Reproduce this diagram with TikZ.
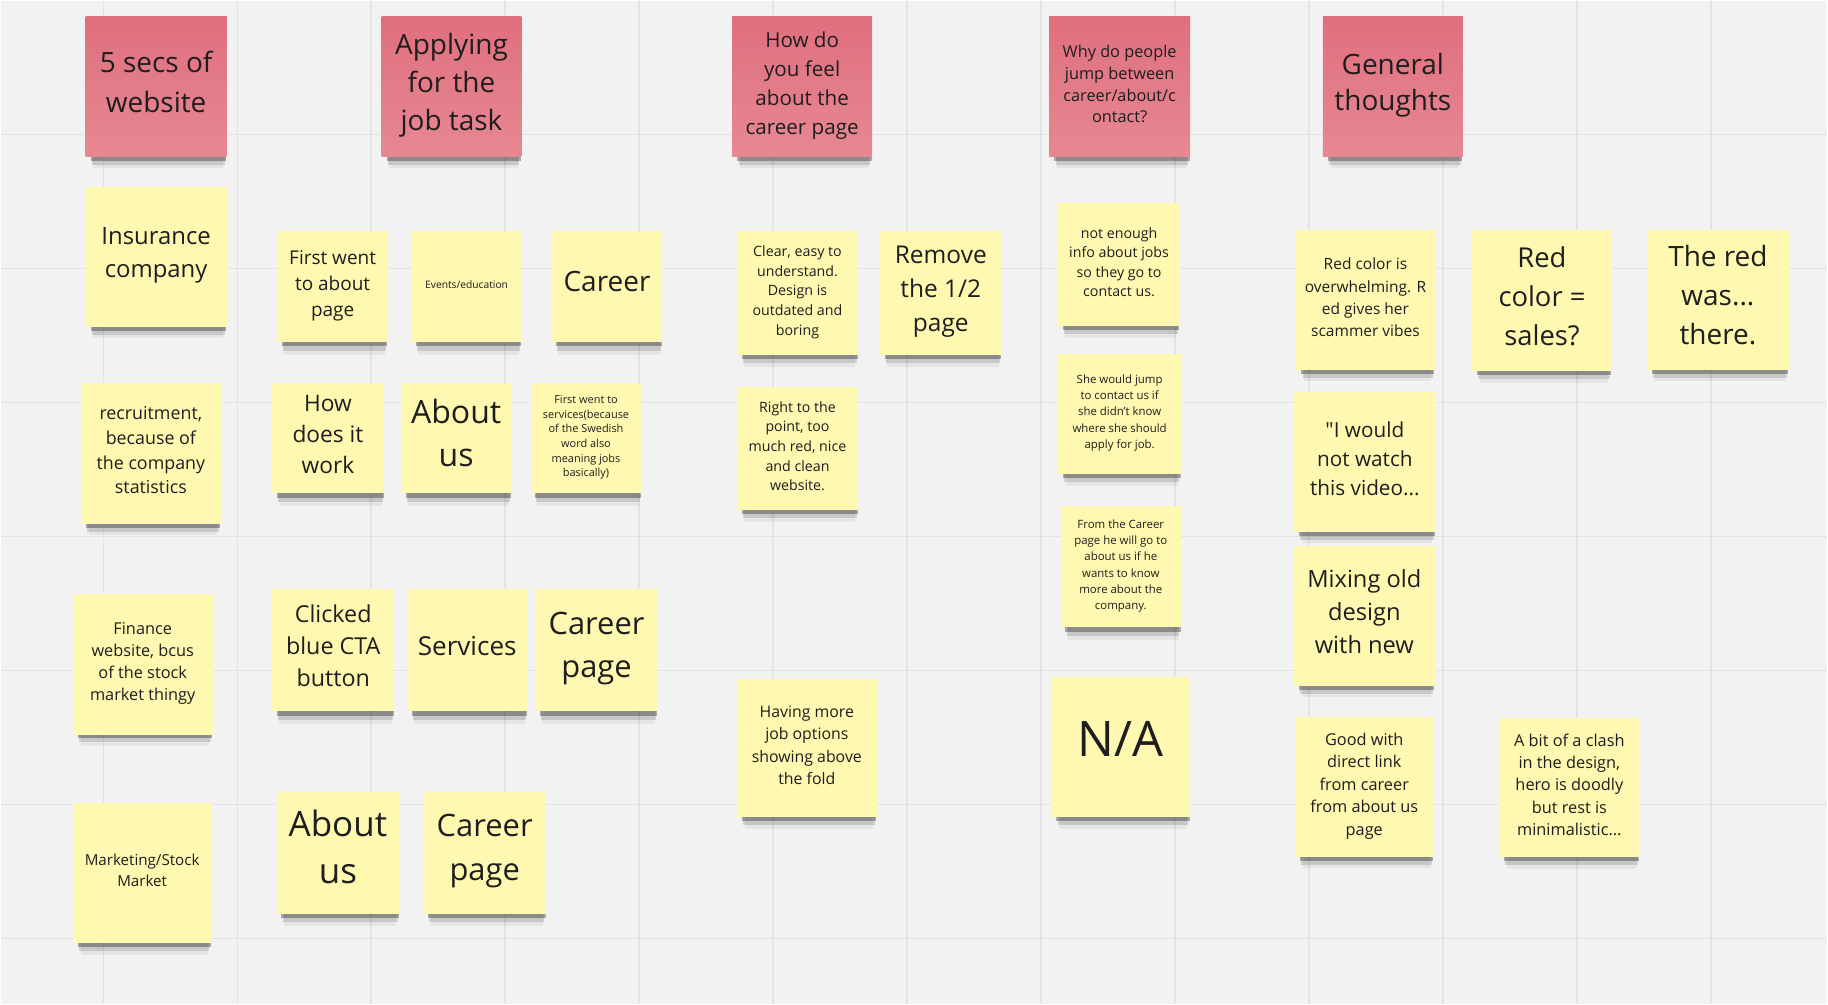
\documentclass[tikz,border=0pt]{standalone}
\usepackage{fontspec}
\setmainfont{Open Sans}[Ligatures=TeXOff]
\usetikzlibrary{shadows}
\definecolor{board}{HTML}{F2F2F2}
\definecolor{gridc}{HTML}{E3E3E3}
\definecolor{headtop}{HTML}{E06F7E}
\definecolor{headbot}{HTML}{E68893}
\definecolor{notey}{HTML}{FFF8B0}
\definecolor{ink}{HTML}{1E1E1E}

\begin{document}
\begin{tikzpicture}[x=1pt, y=-1pt,
  note/.style={inner sep=0pt, align=center, text=ink, fill=notey,
               drop shadow={shadow xshift=2pt, shadow yshift=-6pt, shadow scale=.96, opacity=.30, fill=black},
               drop shadow={shadow xshift=2pt, shadow yshift=-11pt, shadow scale=.94, opacity=.13, fill=black},
               drop shadow={shadow xshift=2pt, shadow yshift=-16pt, shadow scale=.92, opacity=.05, fill=black}},
  head/.style={note, top color=headtop, bottom color=headbot},
  fs/.style 2 args={font=\fontsize{#1}{#2}\selectfont, text depth=0.35*#1},
  gridline/.style={gridc, line width=1pt}
]
  \fill[board] (0,0) rectangle (1568,861);
  \foreach \gx in {88,203,...,1468}
    \draw[gridline] (\gx,0) -- (\gx,861);
  \foreach \gy in {115,230,...,805}
    \draw[gridline] (0,\gy) -- (1568,\gy);

  % headers
  \node[head, minimum width=121, minimum height=120, fs={24}{34}]     (h1) at (133.5,74) {5 secs of\\website};
  \node[head, minimum width=120, minimum height=120, fs={24}{33}]     (h2) at (387,74)   {Applying\\for the\\job task};
  \node[head, minimum width=120, minimum height=120, fs={17.7}{24.7}] (h3) at (688,74)   {How do\\you feel\\about the\\career page};
  \node[head, minimum width=121, minimum height=120, fs={14}{18.8}]   (h4) at (960.5,74) {Why do people\\jump between\\career/about/c\\ontact?};
  \node[head, minimum width=120, minimum height=120, fs={24}{31}]     (h5) at (1195,74)  {General\\thoughts};

  % 5 secs of website
  \node[note, minimum width=121, minimum height=120, fs={20.5}{28}] (a1) at (133.5,220) {Insurance\\company};
  \node[note, minimum width=120, minimum height=121, fs={15.3}{21.3}] (a2) at (129,388.5) {recruitment,\\because of\\the company\\statistics};
  \node[note, minimum width=120, minimum height=121, fs={14}{19}] (a3) at (122,569.5) {Finance\\website, bcus\\of the stock\\market thingy};
  \node[note, minimum width=119, minimum height=120, fs={13}{18}] (a4) at (121.5,749) {Marketing/Stock\\Market};

  % applying for the job task
  \node[note, minimum width=94, minimum height=95, fs={16.3}{22.5}] (b1) at (285,245.5) {First went\\to about\\page};
  \node[note, minimum width=94, minimum height=95, fs={8.8}{11}] (b2) at (400,245.5) {Events/education};
  \node[note, minimum width=95, minimum height=95, fs={24}{30}] (b3) at (520.5,245.5) {Career};
  \node[note, minimum width=96, minimum height=95, fs={19.5}{26.5}] (b4) at (281,375.5) {How\\does it\\work};
  \node[note, minimum width=94, minimum height=95, fs={27.5}{37}] (b5) at (391,375.5) {About\\us};
  \node[note, minimum width=95, minimum height=95, fs={9.4}{12.6}] (b6) at (502.5,375.5) {First went to\\services(because\\of the Swedish\\word also\\meaning jobs\\basically)};
  \node[note, minimum width=105, minimum height=105, fs={20}{27.5}] (b7) at (285.5,557.5) {Clicked\\blue CTA\\button};
  \node[note, minimum width=103, minimum height=105, fs={22.4}{28}] (b8) at (400.5,557.5) {Services};
  \node[note, minimum width=105, minimum height=105, fs={26.5}{37}] (b9) at (511.5,557.5) {Career\\page};
  \node[note, minimum width=105, minimum height=105, fs={30}{41}] (b10) at (289.5,731.5) {About\\us};
  \node[note, minimum width=105, minimum height=105, fs={26.5}{38}] (b11) at (415.5,731.5) {Career\\page};

  % career page
  \node[note, minimum width=104, minimum height=106, fs={12.2}{16.8}] (c1) at (684,251) {Clear, easy to\\understand.\\Design is\\outdated and\\boring};
  \node[note, minimum width=104, minimum height=106, fs={21}{29.5}] (c2) at (807,251) {Remove\\the 1/2\\page};
  \node[note, minimum width=104, minimum height=105, fs={12.2}{16.8}] (c3) at (684,384.5) {Right to the\\point, too\\much red, nice\\and clean\\website.};
  \node[note, minimum width=120, minimum height=119, fs={13.6}{19}] (c4) at (692,641.5) {Having more\\job options\\showing above\\the fold};

  % jumping between pages
  \node[note, minimum width=104, minimum height=105, fs={12.2}{16.7}] (d1) at (960,226.5) {not enough\\info about jobs\\so they go to\\contact us.};
  \node[note, minimum width=105, minimum height=103, fs={9.8}{14}] (d2) at (960.5,354.5) {She would jump\\to contact us if\\she didn’t know\\where she should\\apply for job.};
  \node[note, minimum width=103, minimum height=104, fs={9.8}{14}] (d3) at (961.5,486) {From the Career\\page he will go to\\about us if he\\wants to know\\more about the\\company.};
  \node[note, minimum width=119, minimum height=120, fs={42}{50}] (d4) at (961.5,641) {N/A};

  % general thoughts
  \node[note, minimum width=119, minimum height=120, fs={13.3}{19}] (e1) at (1171.5,257) {Red color is\\overwhelming. R\\ed gives her\\scammer vibes};
  \node[note, minimum width=120, minimum height=121, fs={23.5}{33.5}] (e2) at (1323,257.5) {Red\\color =\\sales?};
  \node[note, minimum width=122, minimum height=120, fs={24}{33.5}] (e3) at (1474,257) {The red\\was...\\there.};
  \node[note, minimum width=122, minimum height=120, fs={17.8}{25}] (e4) at (1171,396) {"I would\\not watch\\this video...};
  \node[note, minimum width=121, minimum height=120, fs={20.3}{28}] (e5) at (1170.5,528) {Mixing old\\design\\with new};
  \node[note, minimum width=119, minimum height=120, fs={14}{19.3}] (e6) at (1170.5,675) {Good with\\direct link\\from career\\from about us\\page};
  \node[note, minimum width=121, minimum height=119, fs={14}{19.3}] (e7) at (1346.5,675.5) {A bit of a clash\\in the design,\\hero is doodly\\but rest is\\minimalistic...};
\end{tikzpicture}
\end{document}
